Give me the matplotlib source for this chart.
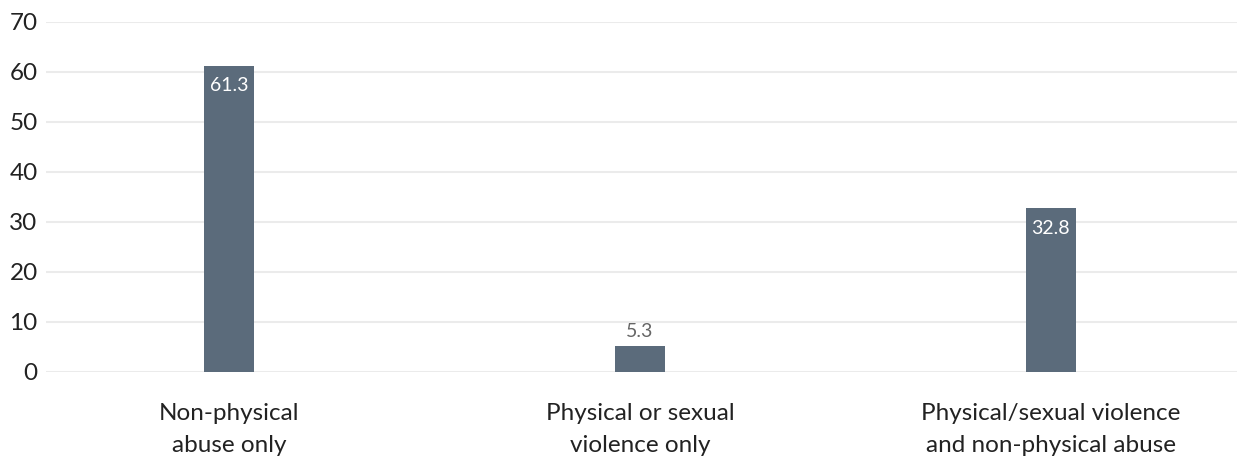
import matplotlib
matplotlib.use("Agg")
import matplotlib.pyplot as plt

plt.rcParams['font.family'] = ['Lato', 'DejaVu Sans']

categories = ["Non-physical\nabuse only", "Physical or sexual\nviolence only",
              "Physical/sexual violence\nand non-physical abuse"]
values = [61.3, 5.3, 32.8]
yticks = [0, 10, 20, 30, 40, 50, 60, 70]

bar_color = "#5b6b7b"

fig = plt.figure(figsize=(12.37, 4.59), dpi=100)
ax = fig.add_axes([46/1237, 87/459, 1 - 46/1237, 350/459])

x = list(range(len(values)))
ax.bar(x, values, width=0.122, color=bar_color, zorder=3)

# value labels: inside the bar when tall enough, above it otherwise
for xi, v in zip(x, values):
    if v > 10:
        ax.annotate(f"{v}", (xi, v), xytext=(0, -20), textcoords="offset pixels",
                    ha="center", va="center", color="white", fontsize=14, zorder=4)
    else:
        ax.annotate(f"{v}", (xi, v), xytext=(0, 14), textcoords="offset pixels",
                    ha="center", va="center", color="#666666", fontsize=14, zorder=4)

ax.set_xlim(-0.445, 2.453)
ax.set_ylim(0, 70)
ax.set_yticks(yticks)
ax.set_yticklabels([str(t) for t in yticks])
ax.set_xticks(x)
ax.set_xticklabels(categories, linespacing=1.7)
ax.yaxis.grid(True, color="#ebebeb", linewidth=1.5, zorder=0)
ax.tick_params(axis="both", length=0, labelsize=17.5, colors="#222222")
ax.tick_params(axis="x", pad=22)
ax.tick_params(axis="y", pad=6)
for s in ax.spines.values():
    s.set_visible(False)

fig.savefig("out.png", dpi=100)
